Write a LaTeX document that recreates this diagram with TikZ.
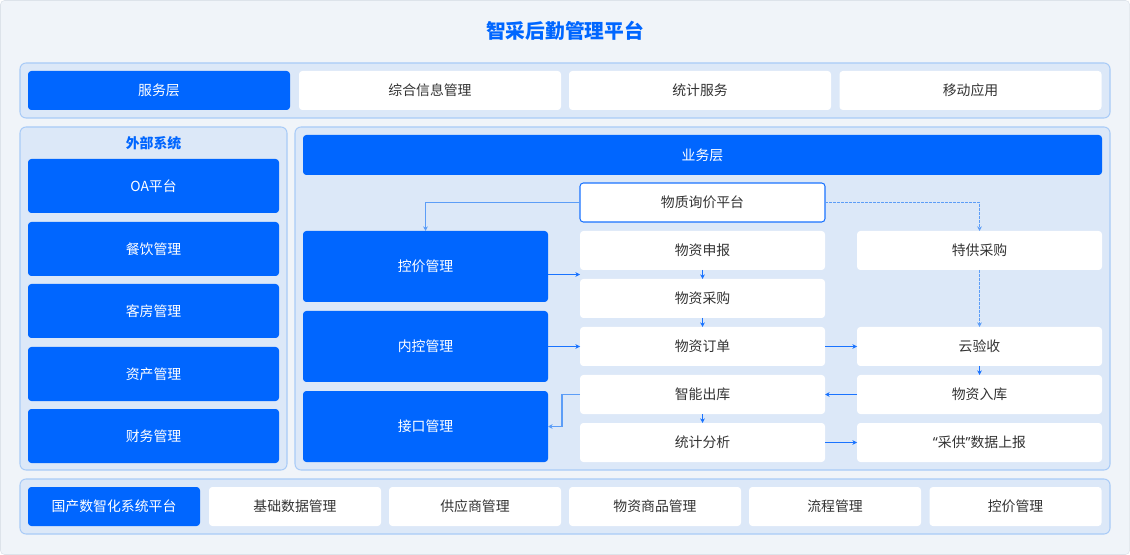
\documentclass[tikz,border=0pt]{standalone}
\usepackage{fontspec}
\setmainfont{Noto Sans CJK SC}
\newfontfamily\latinq{Noto Sans}
\usetikzlibrary{arrows.meta}
\definecolor{bgc}{HTML}{F0F4F9}
\definecolor{bgline}{HTML}{DDE3EA}
\definecolor{panelc}{HTML}{DCE8F8}
\definecolor{panelline}{HTML}{A9CBF7}
\definecolor{mainblue}{HTML}{0066FF}
\definecolor{txt}{HTML}{333333}
\definecolor{arrc}{HTML}{1A73FF}
\definecolor{arrlight}{HTML}{5C9DF7}

\tikzset{
  panel/.style={fill=panelc,draw=panelline,line width=0.8pt,rounded corners=4.5pt},
  bluebox/.style={fill=mainblue,text=white,rounded corners=2.5pt,inner sep=0pt,outer sep=0pt,font=\fontsize{10.4}{12}\selectfont},
  whitebox/.style={fill=white,text=txt,rounded corners=2.5pt,inner sep=0pt,outer sep=0pt,font=\fontsize{10.4}{12}\selectfont},
  arr/.style={draw=arrc,line width=0.8pt,-{Stealth[length=3.5pt,width=3.5pt]}},
  arrl/.style={draw=arrlight,line width=1pt,-{Stealth[length=3.5pt,width=3.5pt]}},
  arrd/.style={draw=arrlight,line width=0.8pt,dash pattern=on 2pt off 1pt,-{Stealth[length=3.5pt,width=3.5pt]}}
}

\begin{document}
\begin{tikzpicture}[x=0.75pt,y=-0.75pt]
  % background
  \useasboundingbox (0,0) rectangle (1130,555);
  \draw[fill=bgc,draw=bgline,rounded corners=3pt] (0.5,0.5) rectangle (1129.5,554.5);
  \node[text=mainblue,font=\bfseries\fontsize{14.8}{17}\selectfont] (title) at (565,31) {智采后勤管理平台};

  % service layer
  \draw[panel] (20,63) rectangle (1110,118);
  \node[bluebox,minimum width=196.5pt,minimum height=29.25pt] (fuwu) at (159,90.5) {服务层};
  \node[whitebox,minimum width=196.5pt,minimum height=29.25pt] (zonghe) at (430,90.5) {综合信息管理};
  \node[whitebox,minimum width=196.5pt,minimum height=29.25pt] (tongjifw) at (700,90.5) {统计服务};
  \node[whitebox,minimum width=196.5pt,minimum height=29.25pt] (yidong) at (970.5,90.5) {移动应用};

  % external systems
  \draw[panel] (20,127) rectangle (287,470);
  \node[text=mainblue,font=\bfseries\fontsize{10.4}{12}\selectfont] (waibu) at (153.5,143) {外部系统};
  \foreach \yc/\lbl/\nm in {186/OA平台/oa,249/餐饮管理/canyin,311/客房管理/kefang,374/资产管理/zichan,436/财务管理/caiwu}{
    \node[bluebox,minimum width=188.25pt,minimum height=40.5pt] (\nm) at (153.5,\yc) {\lbl};}

  % business layer
  \draw[panel] (295,127) rectangle (1110,470);
  \node[bluebox,minimum width=599.25pt,minimum height=30pt] (yewu) at (702.5,155) {业务层};
  \node[whitebox,draw=arrc,line width=0.8pt,minimum width=183.75pt,minimum height=29.25pt] (xunjia) at (702.5,202.5) {物质询价平台};

  % left column
  \node[bluebox,minimum width=183.75pt,minimum height=53.25pt] (kongjia) at (425.5,266.5) {控价管理};
  \node[bluebox,minimum width=183.75pt,minimum height=53.25pt] (neikong) at (425.5,346.5) {内控管理};
  \node[bluebox,minimum width=183.75pt,minimum height=53.25pt] (jiekou) at (425.5,426.5) {接口管理};

  % middle column
  \foreach \yc/\lbl/\nm in {250.5/物资申报/shenbao,298.5/物资采购/caigou,346.5/物资订单/dingdan,394.5/智能出库/chuku,442.5/统计分析/fenxi}{
    \node[whitebox,minimum width=183.75pt,minimum height=29.25pt] (\nm) at (702.5,\yc) {\lbl};}

  % right column
  \node[whitebox,minimum width=183.75pt,minimum height=29.25pt] (tegong) at (979.5,250.5) {特供采购};
  \node[whitebox,minimum width=183.75pt,minimum height=29.25pt] (yanshou) at (979.5,346.5) {云验收};
  \node[whitebox,minimum width=183.75pt,minimum height=29.25pt] (ruku) at (979.5,394.5) {物资入库};
  \node[whitebox,minimum width=183.75pt,minimum height=29.25pt] (shangbao) at (979.5,442.5) {{\latinq “}采供{\latinq ”}数据上报};

  % connectors
  \draw[arrl] (xunjia.west) -| (kongjia.north);
  \draw[arrd] (xunjia.east) -| (tegong.north);
  \coordinate (gapA) at (580,274.5);
  \draw[arr] (kongjia.east |- gapA) -- (gapA);
  \draw[arr] (shenbao) -- (caigou);
  \draw[arr] (caigou) -- (dingdan);
  \draw[arr] (neikong) -- (dingdan);
  \draw[arr] (dingdan) -- (yanshou);
  \draw[arrd] (tegong) -- (yanshou);
  \draw[arr] (yanshou) -- (ruku);
  \draw[arr] (ruku) -- (chuku);
  \draw[arr] (chuku) -- (fenxi);
  \draw[arrl] (chuku.west) -- ++(-18,0) |- (jiekou.east);
  \draw[arr] (fenxi) -- (shangbao);

  % base platform
  \draw[panel] (20,479) rectangle (1110,534);
  \node[bluebox,minimum width=129pt,minimum height=29.25pt] (guochan) at (114,506.5) {国产数智化系统平台};
  \foreach \xc/\lbl/\nm in {295/基础数据管理/jichu,475/供应商管理/gys,655/物资商品管理/shangpin,835/流程管理/liucheng,1015.5/控价管理/kongjiab}{
    \node[whitebox,minimum width=129pt,minimum height=29.25pt] (\nm) at (\xc,506.5) {\lbl};}
\end{tikzpicture}
\end{document}
